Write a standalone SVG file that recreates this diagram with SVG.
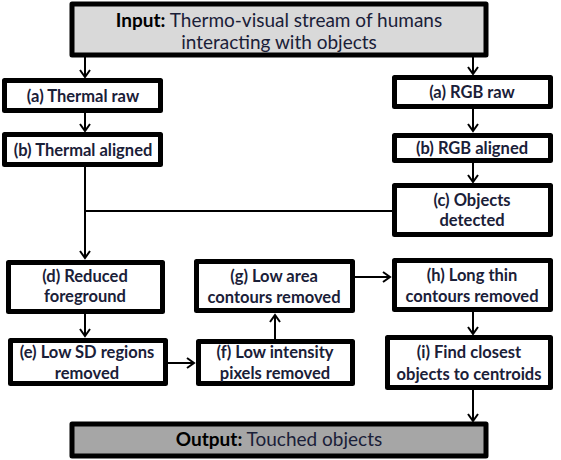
<svg xmlns="http://www.w3.org/2000/svg" width="561" height="460" viewBox="0 0 561 460">
<style>
.box{fill:#fff;stroke:#000;stroke-width:5;stroke-linejoin:round}
.t{font-family:Lato,"Liberation Sans",sans-serif;font-size:16.5px;font-weight:bold;fill:#1a2038;text-anchor:middle}
.tb{font-family:Lato,"Liberation Sans",sans-serif;font-size:19px;fill:#1a2038;text-anchor:middle}
.c{fill:none;stroke:#000;stroke-width:2}
</style>
<defs>
<marker id="ah" markerWidth="12" markerHeight="12" refX="9" refY="6" orient="auto" markerUnits="userSpaceOnUse">
<path d="M2,1 L9,6 L2,11" fill="none" stroke="#000" stroke-width="2"/>
</marker>
</defs>
<rect width="561" height="460" fill="#fff"/>
<g id="connectors">
<line class="c" x1="85" y1="57" x2="85" y2="77" marker-end="url(#ah)"/>
<line class="c" x1="473" y1="57" x2="473" y2="74" marker-end="url(#ah)"/>
<line class="c" x1="85" y1="113" x2="85" y2="131" marker-end="url(#ah)"/>
<line class="c" x1="473" y1="108" x2="473" y2="131" marker-end="url(#ah)"/>
<line class="c" x1="473" y1="162" x2="473" y2="182" marker-end="url(#ah)"/>
<line class="c" x1="85" y1="167" x2="85" y2="258" marker-end="url(#ah)"/>
<line class="c" x1="392" y1="211" x2="85" y2="211"/>
<line class="c" x1="85" y1="313" x2="85" y2="336" marker-end="url(#ah)"/>
<line class="c" x1="168" y1="363" x2="194" y2="363" marker-end="url(#ah)"/>
<line class="c" x1="275" y1="339" x2="275" y2="315" marker-end="url(#ah)"/>
<line class="c" x1="355" y1="277" x2="390" y2="277" marker-end="url(#ah)"/>
<line class="c" x1="473" y1="312" x2="473" y2="334" marker-end="url(#ah)"/>
<line class="c" x1="473" y1="390" x2="473" y2="421" marker-end="url(#ah)"/>
</g>
<g id="input">
<rect class="box" x="72" y="4" width="414" height="51" style="fill:#d9d9d9"/>
<text class="tb" x="279" y="27"><tspan font-weight="bold" fill="#000">Input:</tspan> Thermo-visual stream of humans</text>
<text class="tb" x="279" y="49">interacting with objects</text>
</g>
<g id="thermal-raw">
<rect class="box" x="4.5" y="80.5" width="156" height="30"/>
<text class="t" x="83" y="101.5">(a) Thermal raw</text>
</g>
<g id="thermal-aligned">
<rect class="box" x="4.5" y="134.5" width="156" height="30"/>
<text class="t" x="83" y="155.5">(b) Thermal aligned</text>
</g>
<g id="rgb-raw">
<rect class="box" x="394.5" y="77.5" width="156" height="29"/>
<text class="t" x="472" y="98">(a) RGB raw</text>
</g>
<g id="rgb-aligned">
<rect class="box" x="394.5" y="135.5" width="156" height="25"/>
<text class="t" x="472" y="154">(b) RGB aligned</text>
</g>
<g id="objects-detected">
<rect class="box" x="394.5" y="185.5" width="156" height="49"/>
<text class="t" x="472" y="206">(c) Objects</text>
<text class="t" x="472" y="226">detected</text>
</g>
<g id="reduced-foreground">
<rect class="box" x="8.5" y="262.5" width="154" height="49"/>
<text class="t" x="85" y="282">(d) Reduced</text>
<text class="t" x="85" y="302">foreground</text>
</g>
<g id="low-sd">
<rect class="box" x="10.5" y="340.5" width="155" height="43"/>
<text class="t" x="87" y="358">(e) Low SD regions</text>
<text class="t" x="87" y="379">removed</text>
</g>
<g id="low-intensity">
<rect class="box" x="198.5" y="341.5" width="154" height="42"/>
<text class="t" x="275" y="358">(f)  Low intensity</text>
<text class="t" x="275" y="379">pixels removed</text>
</g>
<g id="low-area">
<rect class="box" x="196.5" y="261.5" width="156" height="49"/>
<text class="t" x="274" y="282">(g) Low area</text>
<text class="t" x="274" y="303">contours removed</text>
</g>
<g id="long-thin">
<rect class="box" x="394.5" y="260.5" width="156" height="49"/>
<text class="t" x="472" y="281">(h) Long thin</text>
<text class="t" x="472" y="302">contours removed</text>
</g>
<g id="closest">
<rect class="box" x="387.5" y="337.5" width="163" height="50"/>
<text class="t" x="469" y="358">(i) Find closest</text>
<text class="t" x="469" y="380">objects to centroids</text>
</g>
<g id="output">
<rect class="box" x="72" y="424" width="414" height="32" style="fill:#a6a6a6"/>
<text class="tb" x="279" y="446"><tspan font-weight="bold" fill="#000">Output:</tspan> Touched objects</text>
</g>
</svg>
